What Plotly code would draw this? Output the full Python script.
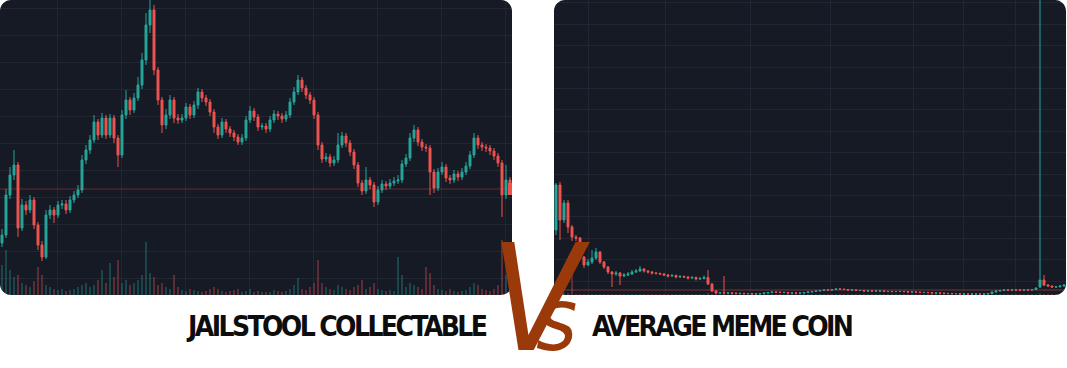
import plotly.graph_objects as go

# ---------------- data ----------------
# Left chart: "JAILSTOOL COLLECTABLE" (price in chart units, one candle per period)
left_open = [52,60,100,120,130,67,90,85,95,70, 50,38,80,85,80,90,91,85,95,100,
             105,135,145,155,173,160,177,160,177,157, 140,180,195,185,197,210,235,270,285,225,
             195,170,180,195,177,175,177,188,180,190, 203,197,193,183,168,160,173,166,162,158,
             153,157,175,184,178,168,169,166,175,181, 179,176,180,193,203,215,207,200,195,180,
             150,136,138,132,135,150,159,152,143,130, 112,104,115,110,93,105,111,109,112,114,
             115,131,137,157,165,153,148,147,123,107, 123,128,117,115,121,118,123,129,140,157,
             150,148,147,144,139,132,100,115]
left_high = [66,106,128,145,133,96,94,100,98,73, 54,85,90,88,94,95,95,99,104,110,
             140,150,160,180,176,182,180,181,180,160, 185,205,198,202,218,242,282,305,290,228,
             198,186,200,198,181,181,192,191,194,207, 206,200,196,186,171,177,176,169,165,161,
             161,179,189,187,181,172,172,179,185,184, 182,184,197,208,220,218,210,203,198,183,
             153,142,141,139,162,163,162,155,146,133, 115,128,118,113,109,115,114,116,118,120,
             135,141,162,170,168,156,151,150,126,127, 133,131,120,125,124,127,133,144,162,160,
             153,151,150,147,142,135,130,118]
left_low = [48,57,96,115,58,64,80,82,66,45, 34,36,76,72,77,86,81,82,92,97,
            102,131,141,152,155,157,156,157,152,128, 137,176,180,182,194,206,230,262,220,190,
            162,166,176,172,171,172,174,176,177,186, 193,189,179,162,156,157,162,158,154,150,
            150,154,172,174,164,165,162,163,172,175, 172,173,177,190,200,203,196,191,176,145,
            132,133,128,129,132,147,148,139,126,108, 100,101,106,88,90,102,105,106,109,111,
            112,128,134,153,149,144,143,100,102,104, 120,113,111,112,114,115,120,126,137,146,
            144,143,140,135,128,78,96,102]
left_close = [60,100,120,130,67,90,85,95,70,50, 38,80,85,80,90,91,85,95,100,105,
              135,145,155,173,160,177,160,177,157,140, 180,195,185,197,210,235,270,285,225,195,
              170,180,195,177,175,177,188,180,190,203, 197,193,183,168,160,173,166,162,158,153,
              157,175,184,178,168,169,166,175,181,179, 176,180,193,203,215,207,200,195,180,150,
              136,138,132,135,150,159,152,143,130,112, 104,115,110,93,105,111,109,112,114,115,
              131,137,157,165,153,148,147,123,107,123, 128,117,115,121,118,123,129,140,157,150,
              148,147,144,139,132,100,115,106]
left_volume = [30,45,25,18,20,12,10,8,14,28, 20,10,8,6,5,6,4,5,6,8,
               10,12,8,10,15,25,12,32,18,35, 12,15,10,12,15,20,53,22,18,10,
               12,8,6,20,8,5,4,6,5,4, 3,4,6,8,6,4,3,4,5,6,
               3,4,6,3,4,3,3,3,5,4, 3,4,6,10,17,6,5,8,12,35,
               12,8,6,5,10,8,6,5,8,10, 15,6,8,12,6,5,4,5,4,38,
               20,8,12,10,8,6,28,22,10,6, 5,4,6,4,3,4,5,8,12,10,
               6,5,4,6,10,55,20,12]
left_last_price = 106

# Right chart: "AVERAGE MEME COIN"
right_open = [65,110,75,92,68,58,57,38,30,33, 37,43,33,28,23,21,22,19,20,21,
              23,24,26,24,23,22,21.5,21,20,19, 19.5,18,18.5,18,17,17.5,16,16.5,17.5,11,
              4,2,2.4,2,2.2,1.9,1.5,1.7,1.4,1.5, 1,1.1,1.5,2,2.5,3,2.9,2.5,2.6,2,
              2.1,1.9,2,2.5,3,3.5,4,4.5,5,4.9, 5.5,6,5.9,5.5,5,5.1,4.5,4.6,4,4.1,
              3.9,4,4.1,3.5,3.6,3.4,3.5,3.6,3.4,3, 3.1,2.9,2.5,2.6,2.4,2,2.1,1.9,1.5,1.6,
              1.4,1.5,1,1.1,0.9,1,1.1,0.9,1,1.5, 3,4,4.5,5,4.9,5.1,5,4.9,5.1,5,
              5.5,8,15,10,9,8,8.2,9]
right_high = [112,113,95,95,70,60,58,39,36,45, 47,44,34,29,24,24,23,22,23,25,
              26,29,27,25,24,23,22.5,22,21,21, 20.5,20,19.5,19,19,18.5,18,19.5,25,12,
              5,3,19,3,2.8,2.5,2.3,2.2,2,2, 1.6,2,2.5,3,3.5,3.5,3.3,3.2,3,2.6,
              2.5,2.5,3,3.5,4,4.5,5,5.5,5.5,6, 6.6,6.6,6.3,6,5.6,5.6,5,5,4.6,4.6,
              4.5,4.6,4.6,4,4,4,4.1,4.1,3.9,3.6, 3.5,3.3,3,3,2.8,2.6,2.5,2.3,2,2,
              2,1.9,1.6,1.5,1.4,1.5,1.5,1.4,2,3.5, 4.5,5,5.5,5.5,5.6,5.6,5.5,5.6,5.6,6,
              7.5,300,20,11,9.5,8.8,9.5,10.5]
right_low = [60,55,72,62,54,54,35,27,29,31, 35,31,26,21,8,19,10,18,19,20,
             22,23,22.5,21.5,20.5,20.5,20,19,17.5,18, 16.5,17,17,15.5,16,14.5,15,15.5,10,3,
             1,1.5,1.4,1.5,1.4,1,1,0.9,1,0.6, 0.6,0.8,1.2,1.7,2.2,2.4,2,2,1.5,1.5,
             1.3,1.4,1.6,2.2,2.7,3.1,3.6,4.1,4.3,4.4, 5,5.3,5,4.5,4.4,4,4,3.5,3.5,3.3,
             3.4,3.5,3,3,2.9,2.9,3,2.9,2.5,2.5, 2.4,2,2,1.9,1.5,1.5,1.4,1,1,0.9,
             0.9,0.5,0.5,0.4,0.4,0.5,0.4,0.4,0.6,1, 2.5,3.5,4,4.3,4.3,4.4,4.3,4.3,4.4,4.6,
             5,7,9,8.4,7.4,7.5,7.6,8.4]
right_close = [110,75,92,68,58,57,38,30,33,37, 43,33,28,23,21,22,19,20,21,23,
               24,26,24,23,22,21.5,21,20,19,19.5, 18,18.5,18,17,17.5,16,16.5,17.5,11,4,
               2,2.4,2,2.2,1.9,1.5,1.7,1.4,1.5,1, 1.1,1.5,2,2.5,3,2.9,2.5,2.6,2,2.1,
               1.9,2,2.5,3,3.5,4,4.5,5,4.9,5.5, 6,5.9,5.5,5,5.1,4.5,4.6,4,4.1,3.9,
               4,4.1,3.5,3.6,3.4,3.5,3.6,3.4,3,3.1, 2.9,2.5,2.6,2.4,2,2.1,1.9,1.5,1.6,1.4,
               1.5,1,1.1,0.9,1,1.1,0.9,1,1.5,3, 4,4.5,5,4.9,5.1,5,4.9,5.1,5,5.5,
               7,15,10,9,8,8.2,9,10]
right_volume = [3,2,2,2,22,1,1,1,1,1, 1,1,1,1,1,1,1,1,1,1,
                1,1,1,1,1,1,1,1,1,1, 1,1,1,1,1,1,1,1,2,1,
                1,1,1,1,1,1,1,1,1,1, 1,1,1,1,1,1,1,1,1,1,
                1,1,1,1,1,1,1,1,1,1, 1,1,1,1,1,1,1,1,1,1,
                1,1,1,1,1,1,1,1,1,1, 1,1,1,1,1,1,1,1,1,1,
                1,1,1,1,1,1,1,1,1,1, 1,1,1,1,1,1,1,1,1,1,
                1,2,1,1,1,1,1,1]
right_last_price = 5

left_title = "JAILSTOOL COLLECTABLE"
right_title = "AVERAGE MEME COIN"
versus_text = "Vs"

# ---------------- style / layout ----------------
W, H = 1067, 368
PANEL_TOP, PANEL_BOTTOM = 0, 295
L_X0, L_X1 = 0, 512
R_X0, R_X1 = 554, 1066
RADIUS = 11
BG = "#161a25"
GRID = "#222632"
UP = "#26a69a"
DOWN = "#ef5350"
UP_VOL = "rgba(38,166,154,0.32)"
DOWN_VOL = "rgba(239,83,80,0.32)"


def px(x):
    return x / W


def py(y):
    return 1 - y / H


fig = go.Figure()

left_x = list(range(len(left_close)))
right_x = list(range(len(right_close)))

left_vol_colors = [UP_VOL if c >= o else DOWN_VOL for o, c in zip(left_open, left_close)]
right_vol_colors = [UP_VOL if c >= o else DOWN_VOL for o, c in zip(right_open, right_close)]

fig.add_trace(go.Bar(x=left_x, y=left_volume, marker=dict(color=left_vol_colors, line=dict(width=0)),
                     width=0.4, xaxis="x", yaxis="y", hoverinfo="skip"))
fig.add_trace(go.Candlestick(x=left_x, open=left_open, high=left_high, low=left_low, close=left_close,
                             xaxis="x", yaxis="y3", whiskerwidth=0,
                             increasing=dict(line=dict(color=UP, width=1), fillcolor=UP),
                             decreasing=dict(line=dict(color=DOWN, width=1), fillcolor=DOWN)))
fig.add_trace(go.Bar(x=right_x, y=right_volume, marker=dict(color=right_vol_colors, line=dict(width=0)),
                     width=0.4, xaxis="x2", yaxis="y2", hoverinfo="skip"))
fig.add_trace(go.Candlestick(x=right_x, open=right_open, high=right_high, low=right_low, close=right_close,
                             xaxis="x2", yaxis="y4", whiskerwidth=0,
                             increasing=dict(line=dict(color=UP, width=1), fillcolor=UP),
                             decreasing=dict(line=dict(color=DOWN, width=1), fillcolor=DOWN)))

ydom = [py(PANEL_BOTTOM), py(PANEL_TOP)]
axis_common = dict(showticklabels=False, zeroline=False, ticks="", showline=False,
                   gridcolor=GRID, gridwidth=1, fixedrange=True)

left_grid_x = [13.75, 29.75, 45.75, 61.75, 77.75, 93.75, 109.75, 125.75]
right_grid_x = [8, 27.25, 48.5, 68.5, 89.25, 101.75, 114.75]

fig.update_layout(
    width=W, height=H,
    margin=dict(l=0, r=0, t=0, b=0),
    paper_bgcolor="white",
    plot_bgcolor=BG,
    showlegend=False,
    bargap=0,
    xaxis=dict(domain=[px(L_X0), px(L_X1)], range=[-0.5, 127.5], anchor="y",
               tickmode="array", tickvals=left_grid_x, showgrid=True,
               rangeslider=dict(visible=False), **axis_common),
    yaxis=dict(domain=ydom, range=[0, 295], anchor="x", tick0=17, dtick=27, showgrid=True, **axis_common),
    yaxis3=dict(overlaying="y", anchor="x", range=[0, 295], visible=False, showgrid=False, fixedrange=True),
    xaxis2=dict(domain=[px(R_X0), px(R_X1)], range=[-0.5, 127.5], anchor="y2",
                tickmode="array", tickvals=right_grid_x, showgrid=True,
                rangeslider=dict(visible=False), **axis_common),
    yaxis2=dict(domain=ydom, range=[0, 295], anchor="x2", tick0=14, dtick=21.4, showgrid=True, **axis_common),
    yaxis4=dict(overlaying="y2", anchor="x2", range=[0, 295], visible=False, showgrid=False, fixedrange=True),
)

shapes = []
# last-price lines
shapes.append(dict(type="line", xref="x", yref="y3", x0=-0.5, x1=127.5,
                   y0=left_last_price, y1=left_last_price,
                   line=dict(color="rgba(239,83,80,0.35)", width=1), layer="above"))
shapes.append(dict(type="line", xref="x2", yref="y4", x0=-0.5, x1=127.5,
                   y0=right_last_price, y1=right_last_price,
                   line=dict(color="rgba(239,83,80,0.45)", width=1), layer="above"))
# price tag stub at the right edge of the left panel
shapes.append(dict(type="rect", xref="paper", yref="y3", x0=px(508), x1=px(512),
                   y0=left_last_price - 6, y1=left_last_price + 6,
                   fillcolor=DOWN, line=dict(width=0), layer="above"))

# rounded-corner masks
K = 0.5523


def corner_masks(x0, y0, x1, y1, r):
    paths = []
    for cx, cy, sx, sy in [(x0, y0, 1, 1), (x1, y0, -1, 1), (x0, y1, 1, -1), (x1, y1, -1, -1)]:
        ax, ay = cx + sx * r, cy
        bx, by = cx, cy + sy * r
        c1x, c1y = cx + sx * r * (1 - K), cy
        c2x, c2y = cx, cy + sy * r * (1 - K)
        ox, oy = cx - sx * 1, cy - sy * 1
        p = (f"M {px(ox)},{py(oy)} L {px(ax)},{py(oy)} L {px(ax)},{py(ay)} "
             f"C {px(c1x)},{py(c1y)} {px(c2x)},{py(c2y)} {px(bx)},{py(by)} "
             f"L {px(ox)},{py(by)} Z")
        paths.append(dict(type="path", xref="paper", yref="paper", path=p,
                          fillcolor="white", line=dict(width=0), layer="above"))
    return paths


shapes += corner_masks(L_X0, PANEL_TOP, L_X1, PANEL_BOTTOM, RADIUS)
shapes += corner_masks(R_X0, PANEL_TOP, R_X1, PANEL_BOTTOM, RADIUS)
fig.update_layout(shapes=shapes)

label_font = dict(family="DejaVu Sans Condensed, sans-serif", size=28, color="#0d0d0d", weight="bold")
tight = "letter-spacing:-2.6px"
fig.add_annotation(x=px(336.5), y=py(326), xref="paper", yref="paper", showarrow=False,
                   xanchor="center", yanchor="middle",
                   text=f"<span style='{tight}'>{left_title}</span>", font=label_font)
fig.add_annotation(x=px(721.5), y=py(326), xref="paper", yref="paper", showarrow=False,
                   xanchor="center", yanchor="middle",
                   text=f"<span style='{tight}'>{right_title}</span>", font=label_font)
fig.add_annotation(x=px(540), y=py(299), xref="paper", yref="paper", showarrow=False,
                   xanchor="center", yanchor="middle",
                   text=(f"<span style='letter-spacing:-46px'>{versus_text[0]}</span>"
                         f"<span style='font-size:88px'>{versus_text[1]}</span>"),
                   font=dict(family="DejaVu Sans Condensed, sans-serif",
                             size=148, color="#9a3a0b", style="italic", weight="normal"))

fig.write_html("out.html")
